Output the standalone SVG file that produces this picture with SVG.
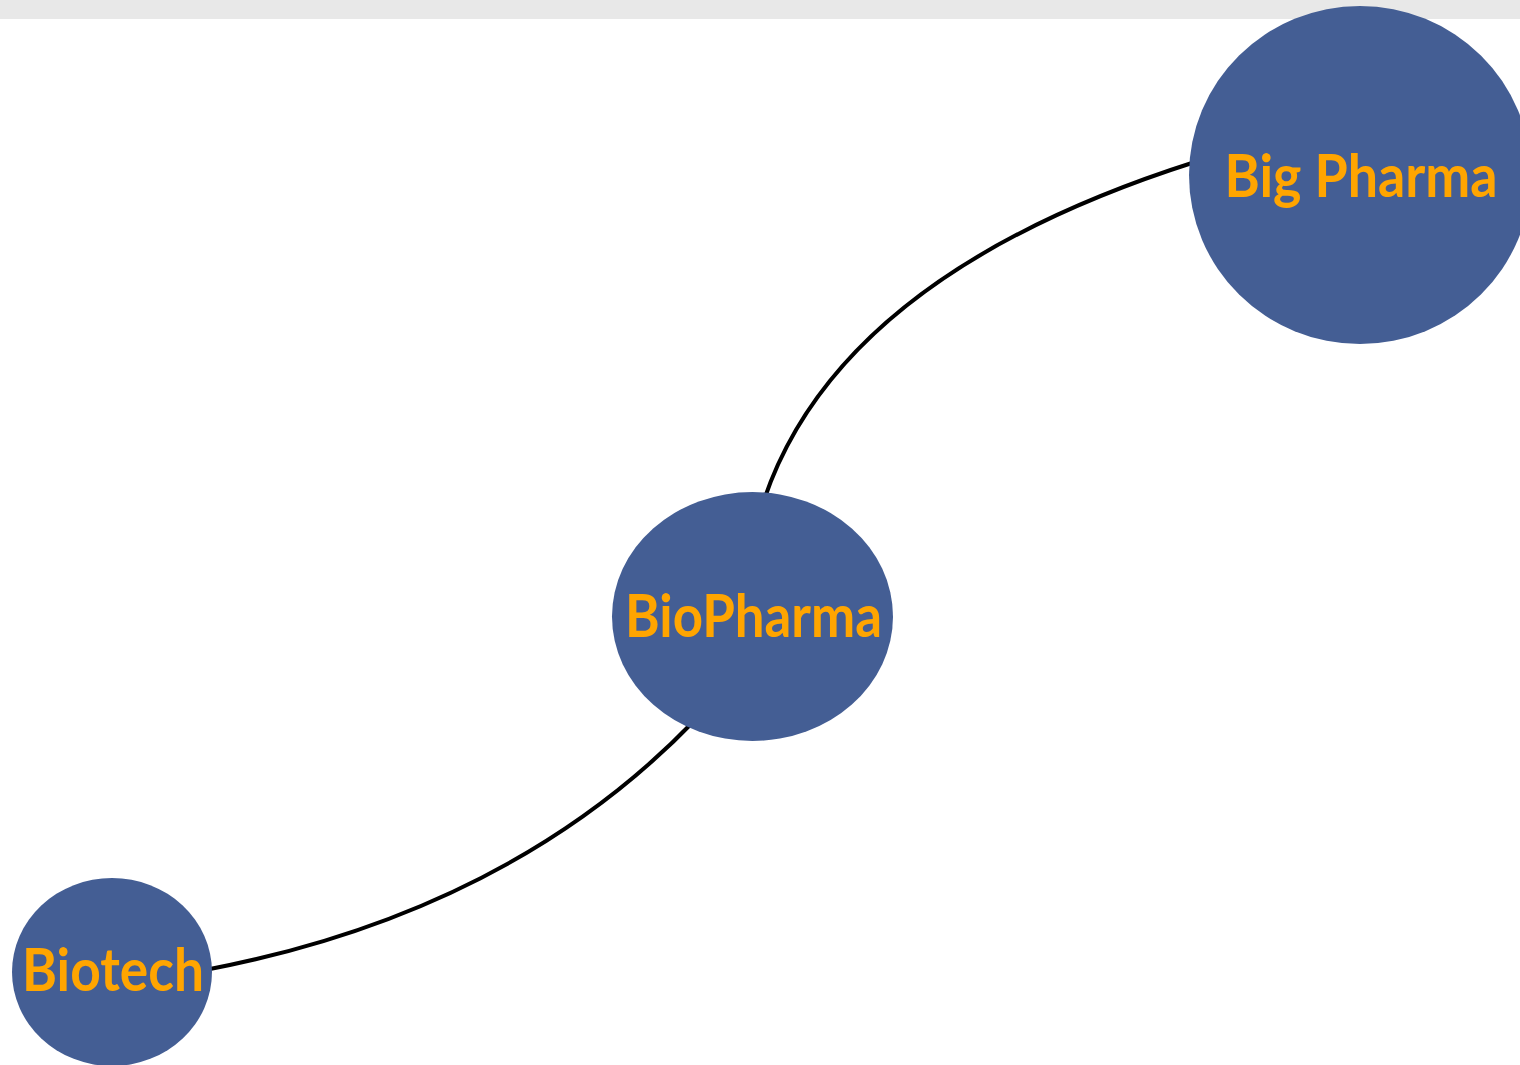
<svg xmlns="http://www.w3.org/2000/svg" width="1520" height="1065" viewBox="0 0 1520 1065">
<style>
.node{fill:#445e94;}
.lbl{fill:#ffa500;font-family:Lato,"Open Sans",sans-serif;font-weight:bold;font-size:60px;text-anchor:middle;}
.edge{fill:none;stroke:#000;stroke-width:4;}
</style>
<rect x="0" y="0" width="1520" height="1065" fill="#fff"/>
<rect x="0" y="0" width="1520" height="19" fill="#e8e8e8"/>
<g id="connectors">
<path class="edge" d="M764,500 Q840,275 1195,162"/>
<path class="edge" d="M695,720 Q510,912 205,970"/>
</g>
<g id="node-bigpharma">
<ellipse class="node" cx="1360" cy="175" rx="171" ry="169"/>
<text class="lbl" x="1361" y="197" textLength="273" lengthAdjust="spacingAndGlyphs">Big Pharma</text>
</g>
<g id="node-biopharma">
<ellipse class="node" cx="752.5" cy="616.5" rx="140.5" ry="124.5"/>
<text class="lbl" x="753.5" y="637" textLength="257" lengthAdjust="spacingAndGlyphs">BioPharma</text>
</g>
<g id="node-biotech">
<ellipse class="node" cx="112" cy="972" rx="100" ry="94"/>
<text class="lbl" x="113" y="991" textLength="182" lengthAdjust="spacingAndGlyphs">Biotech</text>
</g>
</svg>
